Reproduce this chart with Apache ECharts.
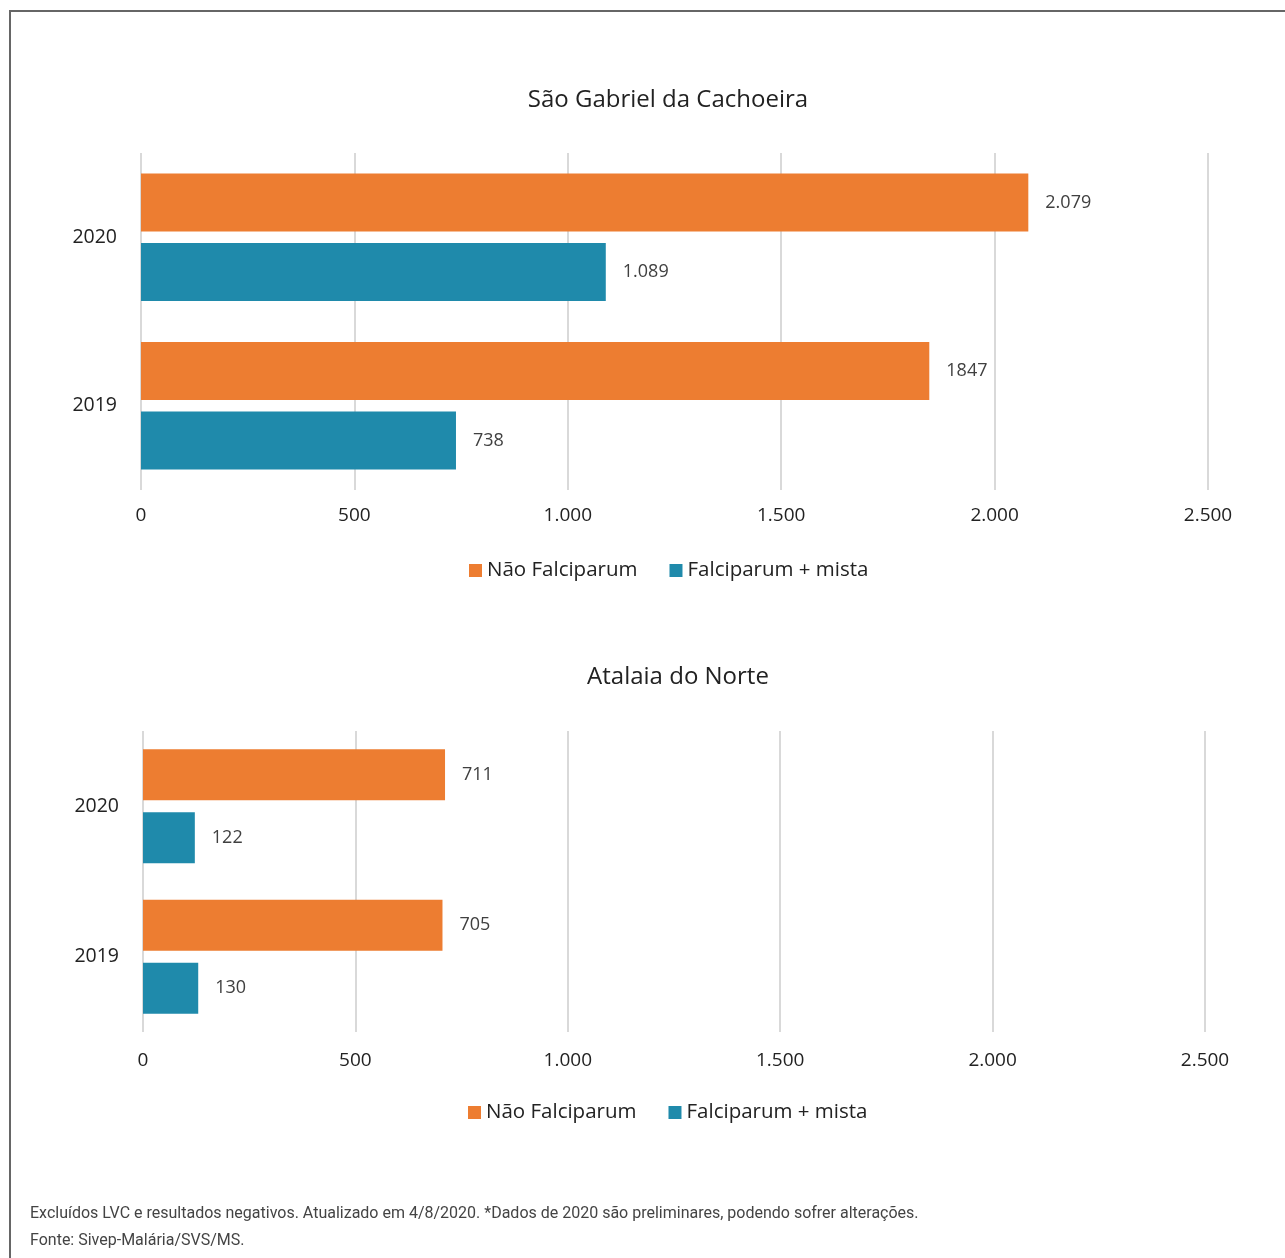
<!DOCTYPE html>
<html>
<head>
<meta charset="utf-8">
<script src="https://cdn.jsdelivr.net/npm/echarts@6/dist/echarts.min.js"></script>
<style>
  html, body { margin: 0; padding: 0; background: #fff; }
  #chart { width: 1285px; height: 1258px; }
</style>
</head>
<body>
<div id="chart"></div>
<script>
// Malaria cases by parasite type, two municipalities, 2019 vs 2020
const years = ['2020', '2019'];
const seriesNames = ['Não Falciparum', 'Falciparum + mista'];

// São Gabriel da Cachoeira
const sgcNaoFalciparum = [2079, 1847];
const sgcFalciparum = [1089, 738];
const sgcNaoFalciparumLabels = ['2.079', '1847'];
const sgcFalciparumLabels = ['1.089', '738'];

// Atalaia do Norte
const anNaoFalciparum = [711, 705];
const anFalciparum = [122, 130];
const anNaoFalciparumLabels = ['711', '705'];
const anFalciparumLabels = ['122', '130'];

const xTicks = [0, 500, 1000, 1500, 2000, 2500];
const titles = ['São Gabriel da Cachoeira', 'Atalaia do Norte'];
const footnotes = [
  'Excluídos LVC e resultados negativos. Atualizado em 4/8/2020. *Dados de 2020 são preliminares, podendo sofrer alterações.',
  'Fonte: Sivep-Malária/SVS/MS.'
];

const ORANGE = '#ed7d31';
const TEAL = '#1f8aab';
const FONT = '"Open Sans", "Noto Sans", sans-serif';

function fmtTick(v) {
  return String(v).replace(/\B(?=(\d{3})+(?!\d))/g, '.');
}

function xAxisFor(gridIndex, margin) {
  return {
    type: 'value', gridIndex: gridIndex,
    min: xTicks[0], max: xTicks[xTicks.length - 1], interval: 500,
    axisLine: { show: false }, axisTick: { show: false },
    splitLine: { show: true, lineStyle: { color: '#d9d9d9', width: 2 } },
    axisLabel: {
      formatter: fmtTick, color: '#222', fontFamily: FONT, fontSize: 19,
      margin: margin
    }
  };
}

function yAxisFor(gridIndex) {
  return {
    type: 'category', gridIndex: gridIndex, data: years, inverse: true,
    axisLine: { show: false }, axisTick: { show: false },
    axisLabel: { color: '#222', fontFamily: FONT, fontSize: 19.5, margin: 24 }
  };
}

function barSeries(name, values, labels, color, idx, barWidth, barGap) {
  return {
    type: 'bar', name: name, xAxisIndex: idx, yAxisIndex: idx,
    data: values, barWidth: barWidth, barGap: barGap,
    itemStyle: { color: color },
    label: {
      show: true, position: 'right', distance: 17,
      color: '#404040', fontFamily: FONT, fontSize: 18,
      formatter: p => labels[p.dataIndex]
    }
  };
}

function legendFor(left, top) {
  return {
    left: left, top: top, padding: 0,
    itemWidth: 13, itemHeight: 13, itemGap: 32,
    icon: 'rect',
    data: seriesNames,
    textStyle: { color: '#222', fontFamily: FONT, fontSize: 20.5 }
  };
}

const chart = echarts.init(document.getElementById('chart'), null, { renderer: 'canvas' });

chart.setOption({
  animation: false,
  backgroundColor: '#fff',
  grid: [
    { left: 141, right: 77, top: 153, height: 337 },
    { left: 143, right: 80, top: 731, height: 301 }
  ],
  xAxis: [xAxisFor(0, 16), xAxisFor(1, 19)],
  yAxis: [yAxisFor(0), yAxisFor(1)],
  legend: [legendFor(469, 560), legendFor(468, 1102)],
  series: [
    barSeries(seriesNames[0], sgcNaoFalciparum, sgcNaoFalciparumLabels, ORANGE, 0, 58, '20%'),
    barSeries(seriesNames[1], sgcFalciparum, sgcFalciparumLabels, TEAL, 0, 58, '20%'),
    barSeries(seriesNames[0], anNaoFalciparum, anNaoFalciparumLabels, ORANGE, 1, 51, '24%'),
    barSeries(seriesNames[1], anFalciparum, anFalciparumLabels, TEAL, 1, 51, '24%')
  ],
  graphic: [
    {
      type: 'rect', silent: true, z: -1,
      shape: { x: 10, y: 11, width: 1400, height: 1400 },
      style: { fill: 'none', stroke: '#666', lineWidth: 2 }
    },
    {
      type: 'text',
      style: { text: titles[0], x: 668, y: 100, align: 'center', verticalAlign: 'middle',
               font: '24px ' + FONT, fill: '#222' }
    },
    {
      type: 'text',
      style: { text: titles[1], x: 678, y: 677, align: 'center', verticalAlign: 'middle',
               font: '24px ' + FONT, fill: '#222' }
    },
    {
      type: 'text',
      style: { text: footnotes[0], x: 30, y: 1214, verticalAlign: 'middle',
               font: '16px Roboto, sans-serif', fill: '#444' }
    },
    {
      type: 'text',
      style: { text: footnotes[1], x: 30, y: 1241, verticalAlign: 'middle',
               font: '16px Roboto, sans-serif', fill: '#444' }
    }
  ]
});
</script>
</body>
</html>
